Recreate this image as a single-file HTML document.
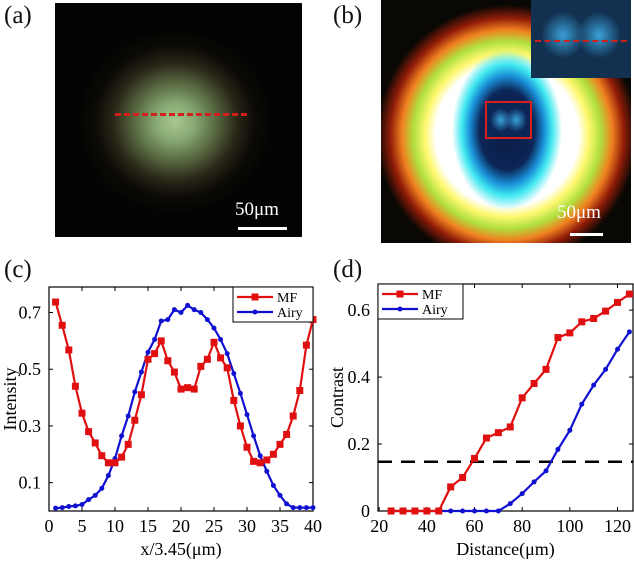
<!DOCTYPE html>
<html><head><meta charset="utf-8"><style>
body{margin:0;width:634px;height:561px;background:#fff;overflow:hidden;font-family:"Liberation Serif",serif;position:relative}
.lbl{position:absolute;font-size:25px;color:#111}
</style></head><body>
<div class="lbl" style="left:4px;top:2px">(a)</div>
<div class="lbl" style="left:333px;top:2px">(b)</div>
<div class="lbl" style="left:4px;top:256px">(c)</div>
<div class="lbl" style="left:333px;top:256px">(d)</div>

<div style="position:absolute;left:55px;top:3px;width:247px;height:234px;background:#020302;overflow:hidden">
  <div style="position:absolute;left:20px;top:20px;width:200px;height:190px;background:radial-gradient(ellipse 50% 50% at 50% 52%,#a8c890 0%,#86a872 20%,#56663f 42%,#2a2618 62%,#0c0a06 80%,rgba(2,3,2,0) 100%)"></div>
  <div style="position:absolute;left:60px;top:110px;width:132px;border-top:3px dashed #d0201c"></div>
  <div style="position:absolute;left:180px;top:196px;color:#fff;font-size:19px">50μm</div>
  <div style="position:absolute;left:183px;top:224px;width:49px;height:3px;background:#fff"></div>
</div>

<div style="position:absolute;left:381px;top:0px;width:250px;height:243px;background:#0a0804;overflow:hidden">
  <div style="position:absolute;left:-4px;top:5px;width:260px;height:260px;background:radial-gradient(circle 130px at 50% 50%,#ffffff 0%,#ffffff 55%,#fff870 63%,#b0e040 72%,#f08020 81%,#901c08 90%,rgba(10,8,4,0) 100%)"></div>
  <div style="position:absolute;left:71px;top:50px;width:110px;height:160px;background:radial-gradient(ellipse 50% 50% at 50% 50%,#0a1a40 0%,#0c2658 50%,#1a90d8 68%,#40e8f0 82%,rgba(255,255,255,0) 100%)"></div>
  <div style="position:absolute;left:150px;top:0;width:100px;height:78px;background:radial-gradient(ellipse 22% 30% at 32% 45%,#3aa0d8 0%,rgba(40,120,200,0) 100%),radial-gradient(ellipse 22% 30% at 68% 45%,#3aa0d8 0%,rgba(40,120,200,0) 100%),#12304f">
    <div style="position:absolute;left:4px;top:40px;width:92px;border-top:2px dashed #d0201c"></div>
  </div>
  <div style="position:absolute;left:104px;top:101px;width:43px;height:34px;border:2px solid #d8201c;background:radial-gradient(ellipse 25% 35% at 32% 50%,#3aa0d8 0%,rgba(40,120,200,0) 100%),radial-gradient(ellipse 25% 35% at 68% 50%,#3aa0d8 0%,rgba(40,120,200,0) 100%),#0c2658"></div>
  <div style="position:absolute;left:176px;top:202px;color:#fff;font-size:19px">50μm</div>
  <div style="position:absolute;left:189px;top:233px;width:33px;height:3px;background:#fff"></div>
</div>

<svg id="svg" width="634" height="561" style="position:absolute;left:0;top:0" font-family="Liberation Serif, serif"></svg>
<script>
const cX=[];for(let i=1;i<=40;i++)cX.push(i);
const cMF=[0.737,0.655,0.568,0.44,0.345,0.28,0.24,0.195,0.17,0.17,0.19,0.235,0.32,0.41,0.535,0.555,0.6,0.53,0.49,0.43,0.435,0.43,0.51,0.535,0.595,0.54,0.505,0.39,0.3,0.225,0.175,0.17,0.18,0.2,0.235,0.27,0.335,0.425,0.585,0.675];
const cAiry=[0.01,0.012,0.016,0.018,0.023,0.04,0.055,0.08,0.125,0.185,0.265,0.335,0.42,0.49,0.56,0.605,0.67,0.675,0.71,0.7,0.725,0.71,0.7,0.675,0.645,0.605,0.555,0.485,0.415,0.34,0.265,0.195,0.14,0.09,0.055,0.025,0.012,0.012,0.012,0.012];
const cXTicks=[0,5,10,15,20,25,30,35,40];
const cYTicks=[0.1,0.3,0.5,0.7];
const dX=[25,30,35,40,45,50,55,60,65,70,75,80,85,90,95,100,105,110,115,120,125];
const dMF=[0,0,0,0,0,0.072,0.1,0.157,0.218,0.234,0.251,0.338,0.381,0.423,0.518,0.532,0.565,0.575,0.597,0.623,0.648];
const dAiry=[0,0,0,0,0,0,0,0,0,0,0.022,0.052,0.087,0.12,0.184,0.241,0.319,0.376,0.423,0.483,0.535];
const dXTicks=[20,40,60,80,100,120];
const dYTicks=[0,0.2,0.4,0.6];
const dThreshold=0.147;

const svg=document.getElementById('svg');const NS='http://www.w3.org/2000/svg';
function mk(t,a,p){const e=document.createElementNS(NS,t);for(const k in a)e.setAttribute(k,a[k]);(p||svg).appendChild(e);return e;}
function chart(o){
  const g=mk('g',{});
  
  
  const sx=v=>o.L+(v-o.x0)/(o.x1-o.x0)*(o.R-o.L);
  const sy=v=>o.B-(v-o.y0)/(o.y1-o.y0)*(o.B-o.T);
  mk('rect',{x:o.L,y:o.T,width:o.R-o.L,height:o.B-o.T,fill:'none',stroke:'#000','stroke-width':1.2},g);
  o.xt.forEach(v=>{const x=sx(v);mk('line',{x1:x,x2:x,y1:o.B,y2:o.B-4,stroke:'#000'},g);mk('line',{x1:x,x2:x,y1:o.T,y2:o.T+4,stroke:'#000'},g);
    const t=mk('text',{x:x,y:o.B+21,'text-anchor':'middle','font-size':18},g);t.textContent=v;
    
    });
  o.yt.forEach(v=>{const y=sy(v);mk('line',{x1:o.L,x2:o.L+4,y1:y,y2:y,stroke:'#000'},g);mk('line',{x1:o.R,x2:o.R-4,y1:y,y2:y,stroke:'#000'},g);
    const t=mk('text',{x:o.L-8,y:y+6,'text-anchor':'end','font-size':18},g);t.textContent=String(v);
    
    });
  if(o.thr!==undefined){const l=mk('line',{x1:o.L,x2:o.R,y1:sy(o.thr),y2:sy(o.thr),stroke:'#000','stroke-width':2.5,'stroke-dasharray':'14 9'},g);
    
    }
  const series=[[o.mf,'#e01010','sq','mf-series'],[o.airy,'#1010d0','dot','airy-series']];
  series.slice().reverse().forEach(s=>{
    const pts=o.xs.map((x,i)=>sx(x)+','+sy(s[0][i])).join(' ');
    const pl=mk('polyline',{points:pts,fill:'none',stroke:s[1],'stroke-width':2.2},g);
    
    
    o.xs.forEach((x,i)=>{const px=sx(x),py=sy(s[0][i]);
      const m=s[2]=='sq'?mk('rect',{x:px-3.5,y:py-3.5,width:7,height:7,fill:s[1]},g):mk('circle',{cx:px,cy:py,r:2.5,fill:s[1]},g);
      
      });
  });
  const lg=mk('g',{},g);
  
  
  mk('rect',{x:o.lx,y:o.ly,width:o.lw,height:35,fill:'#fff',stroke:'#000'},lg);
  [['MF','#e01010','sq'],['Airy','#1010d0','dot']].forEach((e,i)=>{const y=o.ly+10+i*15;
    mk('line',{x1:o.lx+4,x2:o.lx+40,y1:y,y2:y,stroke:e[1],'stroke-width':2.2},lg);
    if(e[2]=='sq')mk('rect',{x:o.lx+18.5,y:y-3.5,width:7,height:7,fill:e[1]},lg);else mk('circle',{cx:o.lx+22,cy:y,r:2.5,fill:e[1]},lg);
    const t=mk('text',{x:o.lx+44,y:y+5,'font-size':14},lg);t.textContent=e[0];});
  const xt=mk('text',{x:(o.L+o.R)/2,y:o.B+44,'text-anchor':'middle','font-size':18},g);xt.textContent=o.xl;
  
  
  const cy=(o.T+o.B)/2;const yt=mk('text',{x:o.ylx,y:cy,'text-anchor':'middle','font-size':18,transform:`rotate(-90 ${o.ylx} ${cy})`},g);yt.textContent=o.yl;
  
  
}
chart({name:'chart-c',L:49,R:313,T:287,B:511,x0:0,x1:40,y0:0,y1:0.79,xs:cX,mf:cMF,airy:cAiry,xt:cXTicks,yt:cYTicks,lx:233,ly:287,lw:80,xl:'x/3.45(μm)',yl:'Intensity',ylx:16});
chart({name:'chart-d',L:378,R:633,T:284,B:511,x0:19.5,x1:126.5,y0:0,y1:0.678,xs:dX,mf:dMF,airy:dAiry,xt:dXTicks,yt:dYTicks,lx:378,ly:284,lw:85,thr:dThreshold,xl:'Distance(μm)',yl:'Contrast',ylx:343});
</script>
</body></html>
